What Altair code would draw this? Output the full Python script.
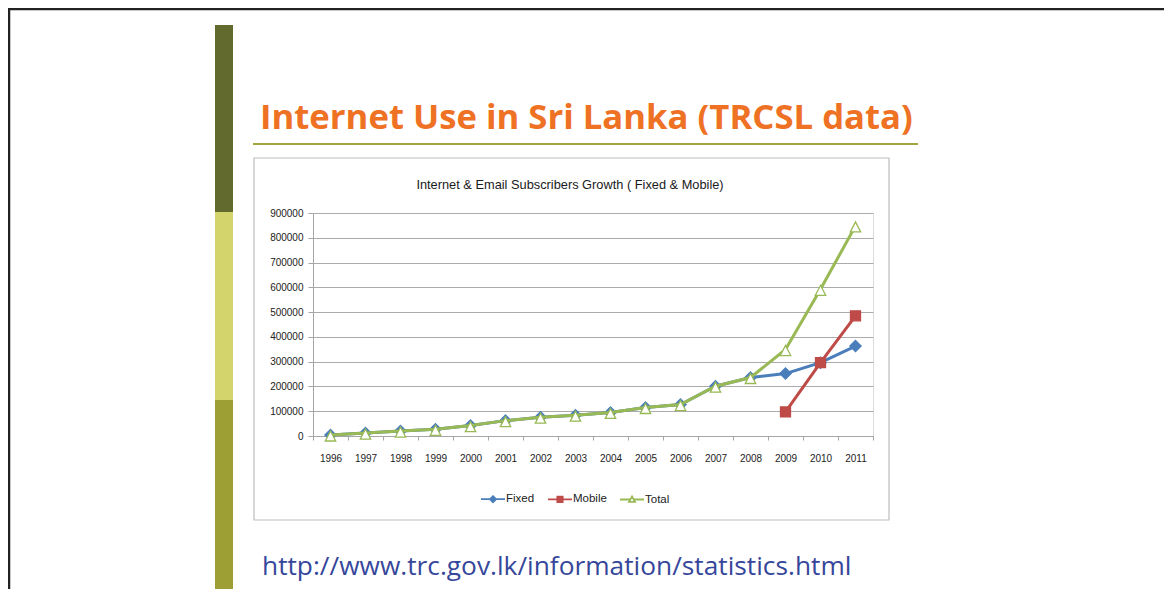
import altair as alt
import pandas as pd

# ---------------- data ----------------
years = ["1996", "1997", "1998", "1999", "2000", "2001", "2002", "2003",
         "2004", "2005", "2006", "2007", "2008", "2009", "2010", "2011"]
fixed = [4000, 12000, 20000, 27000, 42000, 62000, 76000, 84000,
         95000, 115000, 127000, 201000, 236000, 252000, 296000, 363000]
mobile = [None, None, None, None, None, None, None, None,
          None, None, None, None, None, 97000, 296000, 485000]
total = [4000, 12000, 20000, 27000, 42000, 62000, 76000, 84000,
         95000, 115000, 127000, 201000, 236000, 349000, 592000, 848000]
series_names = ["Fixed", "Mobile", "Total"]
y_ticks = [0, 100000, 200000, 300000, 400000, 500000, 600000, 700000, 800000, 900000]

slide_title = "Internet Use in Sri Lanka (TRCSL data)"
chart_title = "Internet & Email Subscribers Growth ( Fixed & Mobile)"
source_url = "http://www.trc.gov.lk/information/statistics.html"

# ---------------- styles ----------------
line_colors = ["#4A7EBB", "#BE4B48", "#98B954"]
fill_colors = ["#4A7EBB", "#BE4B48", "#FFFFFF"]
marker_paths = [
    "M0,-0.28L0.28,0L0,0.28L-0.28,0Z",
    "M-0.25,-0.25H0.25V0.25H-0.25Z",
    "M0,-0.2L0.26,0.3H-0.26Z",
]
legend_paths = [
    "M-1,0H1M0,-0.25L0.25,0L0,0.25L-0.25,0Z",
    "M-1,0H1M-0.22,-0.22H0.22V0.22H-0.22Z",
    "M-1,0H-0.14M0.14,0H1M0,-0.25L0.25,0.2H-0.25Z",
]
FONT = "Liberation Sans"

rows = []
for name, vals in zip(series_names, [fixed, mobile, total]):
    for yr, v in zip(years, vals):
        if v is not None:
            rows.append({"year": yr, "value": v, "series": name})
df = pd.DataFrame(rows)
legend_df = pd.DataFrame({"series": series_names})
one = pd.DataFrame({"k": [0]})

x_enc = alt.X(
    "year:O",
    bandPosition=0.5,
    sort=years,
    scale=alt.Scale(type="band", domain=years, paddingInner=0, paddingOuter=0),
    axis=alt.Axis(title=None, tickBand="extent", grid=False, labelAngle=0,
                  domainColor="#A6A6A6", tickColor="#A6A6A6", tickSize=4,
                  labelPadding=13, labelFont=FONT, labelFontSize=10,
                  labelColor="#222222"),
)
y_enc = alt.Y(
    "value:Q",
    scale=alt.Scale(domain=[0, 900000], nice=False),
    axis=alt.Axis(title=None, values=y_ticks, format="d", grid=True,
                  gridColor="#ABABAB", gridWidth=1, domainColor="#A6A6A6",
                  tickColor="#A6A6A6", tickSize=5, labelPadding=5,
                  labelFont=FONT, labelFontSize=10, labelColor="#222222"),
)

series_layers = []
for name, lc, fc, mp in zip(series_names, line_colors, fill_colors, marker_paths):
    base = alt.Chart(df).transform_filter(alt.datum.series == name)
    ln = base.mark_line(strokeWidth=3, color=lc).encode(x=x_enc, y=y_enc)
    pt = base.mark_point(size=1600, strokeWidth=1.3, opacity=1, shape=mp,
                         fill=fc, stroke=lc).encode(x=x_enc, y=y_enc)
    series_layers += [ln, pt]

# legend (symbols drawn by the legend; the layer's own points sit off-canvas)
point_legend = alt.Legend(title=None, orient="none", legendX=167, legendY=273,
                          direction="horizontal", symbolSize=576,
                          symbolStrokeWidth=1.8, labelFont=FONT,
                          labelFontSize=11.5, labelOffset=0, columnPadding=9,
                          padding=0, labelColor="#222222")
legend_layer = alt.Chart(legend_df).mark_point(opacity=1).encode(
    x=alt.value(-3000), y=alt.value(-3000),
    shape=alt.Shape("series:N", sort=series_names,
                    scale=alt.Scale(domain=series_names, range=legend_paths),
                    legend=point_legend),
    fill=alt.Fill("series:N", sort=series_names,
                  scale=alt.Scale(domain=series_names, range=fill_colors),
                  legend=point_legend),
    stroke=alt.Stroke("series:N", sort=series_names,
                      scale=alt.Scale(domain=series_names, range=line_colors),
                      legend=point_legend),
)

# ---------------- slide decoration ----------------
frame = alt.Chart(one).mark_rect(fillOpacity=0, stroke="#222222", strokeWidth=2.5).encode(
    x=alt.value(-304), x2=alt.value(900), y=alt.value(-204), y2=alt.value(420))
band1 = alt.Chart(one).mark_rect(color="#636A2E").encode(
    x=alt.value(-98), x2=alt.value(-80), y=alt.value(-188), y2=alt.value(-1))
band2 = alt.Chart(one).mark_rect(color="#D3D46C").encode(
    x=alt.value(-98), x2=alt.value(-80), y=alt.value(-1), y2=alt.value(187))
band3 = alt.Chart(one).mark_rect(color="#9D9F35").encode(
    x=alt.value(-98), x2=alt.value(-80), y=alt.value(187), y2=alt.value(377))
box = alt.Chart(one).mark_rect(fillOpacity=0, stroke="#BDBDBD", strokeWidth=1.2).encode(
    x=alt.value(-59), x2=alt.value(576), y=alt.value(-55), y2=alt.value(307))
title_txt = alt.Chart(one).mark_text(
    text=slide_title, align="left", baseline="alphabetic", font="Open Sans",
    fontSize=34.7, fontWeight="bold", color="#EE7124").encode(
    x=alt.value(-53), y=alt.value(-84))
underline = alt.Chart(one).mark_rule(color="#A4A43E", strokeWidth=2).encode(
    x=alt.value(-60), x2=alt.value(605), y=alt.value(-69))
ctitle_txt = alt.Chart(one).mark_text(
    text=chart_title, align="center", baseline="alphabetic", font=FONT,
    fontSize=12.8, color="#1A1A1A").encode(x=alt.value(257), y=alt.value(-24))
url_txt = alt.Chart(one).mark_text(
    text=source_url, align="left", baseline="alphabetic", font="Open Sans",
    fontSize=26.3, color="#36479B").encode(x=alt.value(-51), y=alt.value(362))

chart = alt.layer(
    frame, band1, band2, band3, box, title_txt, underline, ctitle_txt, url_txt,
    *series_layers, legend_layer,
).properties(
    width=560, height=223,
    autosize=alt.AutoSizeParams(type="none"),
    padding={"left": 305, "top": 205, "right": 291, "bottom": 153},
).configure_view(stroke=None).configure(background="white")

chart.save("out.html", embed_options={"renderer": "svg", "actions": False})
